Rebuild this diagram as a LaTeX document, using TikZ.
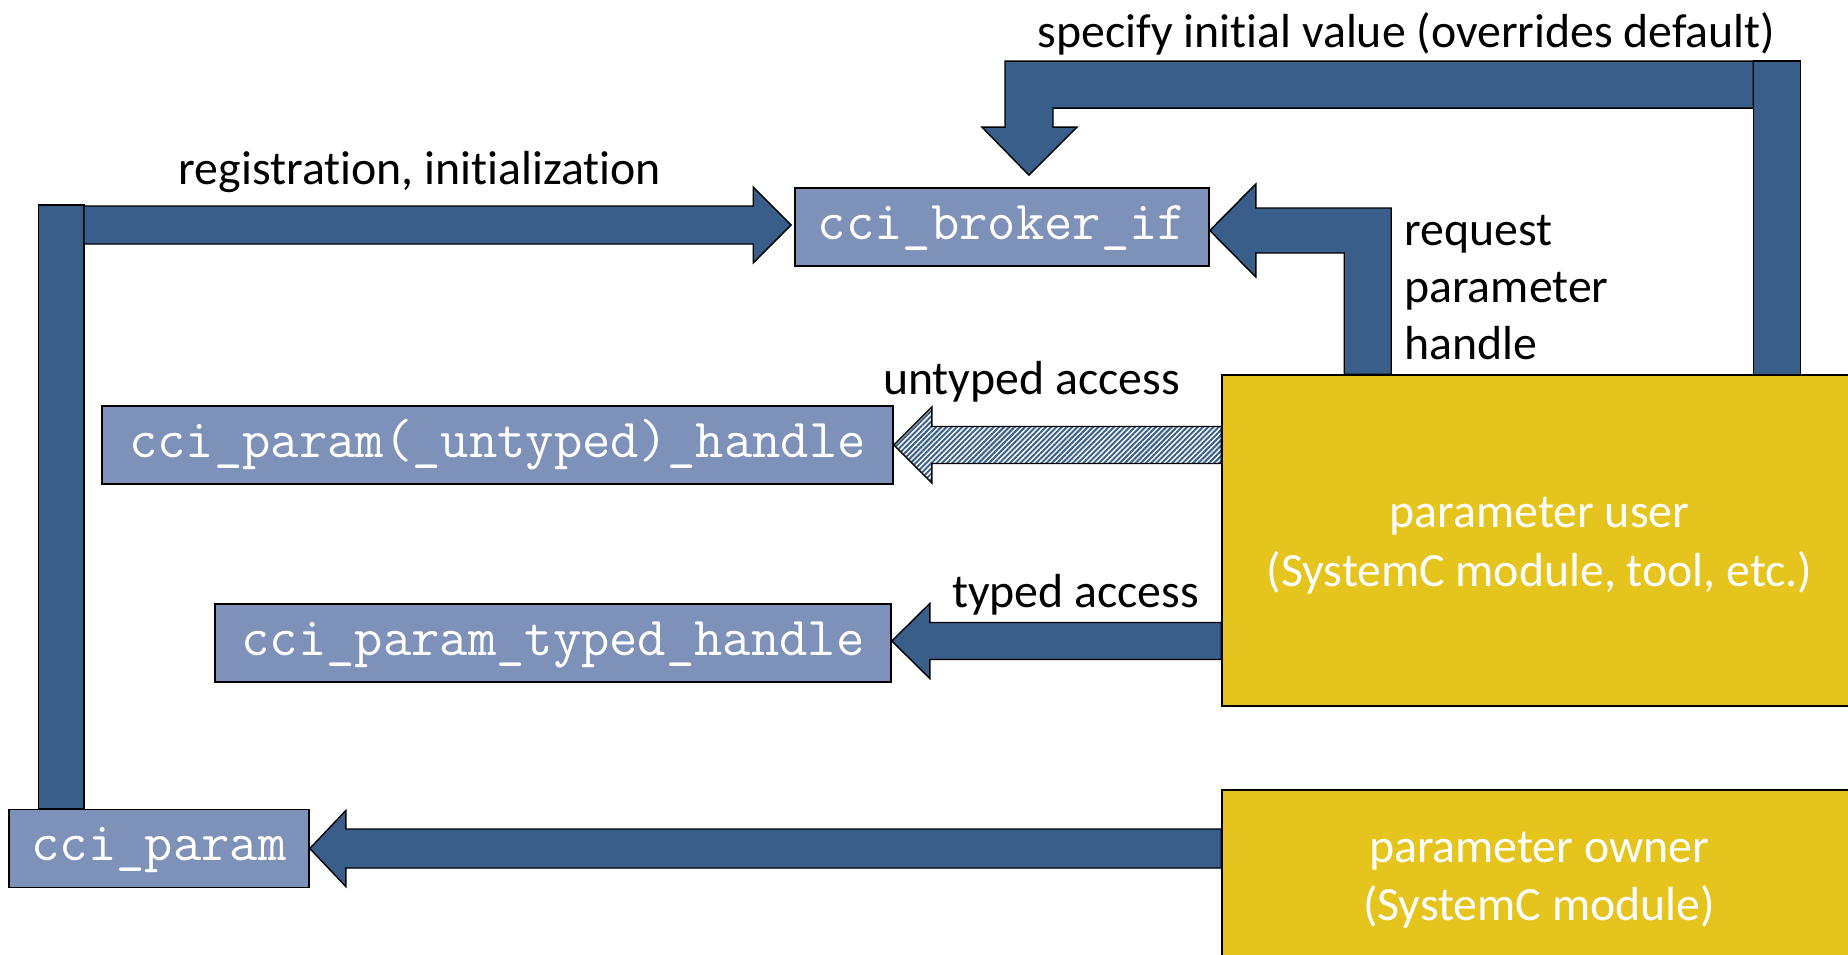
\documentclass[tikz,border=0pt]{standalone}
\usepackage{fontspec}
\setmainfont{Carlito}[Ligatures={NoCommon}]
\usetikzlibrary{calc,patterns.meta}

\definecolor{arrowblue}{RGB}{58,94,138}
\definecolor{boxblue}{RGB}{126,145,185}
\definecolor{moduleyellow}{RGB}{230,196,30}

% block arrow pointing left: tip, tail (same height as tip), shaft half width, head half width, head length
\newcommand\blockleft[5]{($(#1)+(#5,-#4)$) -- (#1) -- ($(#1)+(#5,#4)$) -- ($(#1)+(#5,#3)$) -- ($(#2)+(0,#3)$) -- ($(#2)+(0,-#3)$) -- ($(#1)+(#5,-#3)$) -- cycle}
% block arrow pointing right, same arguments
\newcommand\blockright[5]{($(#1)+(-#5,-#4)$) -- (#1) -- ($(#1)+(-#5,#4)$) -- ($(#1)+(-#5,#3)$) -- ($(#2)+(0,#3)$) -- ($(#2)+(0,-#3)$) -- ($(#1)+(-#5,-#3)$) -- cycle}

\tikzset{
  iface/.style={draw=black, line width=1.6pt, fill=boxblue, text=white,
    inner xsep=0pt, inner ysep=0pt, minimum height=78pt,
    font=\fontsize{55}{55}\selectfont\ttfamily, text height=51pt, text depth=27pt},
  module/.style={draw=black, line width=1.6pt, fill=moduleyellow, inner sep=0pt},
  flow/.style={draw=black, line width=1.4pt, fill=arrowblue, line join=miter},
  hatchflow/.style={draw=black, line width=1.4pt, line join=miter, preaction={fill=white},
    pattern={Lines[angle=45,distance=3.7pt,line width=2pt]}, pattern color=arrowblue},
  lbl/.style={font=\fontsize{47.8}{57}\selectfont, inner sep=0pt},
  modlbl/.style={lbl, text=white},
}

\begin{document}
\begin{tikzpicture}[x=1pt,y=-1pt]
\useasboundingbox (0,0) rectangle (1848,955);
\clip (0,0) rectangle (1848,955);

% modules
\node[module, minimum width=634pt, minimum height=331pt] (user) at (1539,540.5) {};
\node[module, minimum width=634pt, minimum height=176pt] (owner) at (1539,878) {};
\node[modlbl, anchor=base] (userA) at (1539.5,527) {parameter user};
\node[modlbl, anchor=base] (userB) at (1539.5,586) {(SystemC module, tool, etc.)};
\node[modlbl, anchor=base] (ownerA) at (1539,862) {parameter owner};
\node[modlbl, anchor=base] (ownerB) at (1539,920) {(SystemC module)};

% interfaces
\node[iface, minimum width=414pt] (broker) at (1002,227) {cci\_broker\_if};
\node[iface, minimum width=791pt] (untyped) at (497.5,445) {cci\_param(\_untyped)\_handle};
\node[iface, minimum width=676pt] (typed) at (553,643) {cci\_param\_typed\_handle};
\node[iface, minimum width=300pt] (param) at (159,848.5) {cci\_param};

% access arrows from the modules
\coordinate (untypedtail) at (user.west |- untyped.east);
\coordinate (typedtip) at ($(typed.east)+(0,-2)$);
\coordinate (typedtail) at (user.west |- typedtip);
\coordinate (paramtail) at (owner.west |- param.east);
\draw[hatchflow] \blockleft{untyped.east}{untypedtail}{18.5}{38}{38};
\draw[flow] \blockleft{typedtip}{typedtail}{18.5}{37.5}{38};
\draw[flow] \blockleft{param.east}{paramtail}{19.5}{38}{36};

% registration path: up from cci_param, then right to the broker
\coordinate (barbottom) at ($(param.north west)+(30,0)$);
\coordinate (bartop) at (84,205);
\draw[flow] (barbottom) rectangle (bartop);
\coordinate (regtip) at ($(broker.west)+(-3,-2)$);
\coordinate (regtail) at (bartop |- regtip);
\draw[flow] \blockright{regtip}{regtail}{19}{38}{38};

% request parameter handle: up from the user, then left to the broker
\coordinate (reqtip) at ($(broker.east)+(0,3.5)$);
\coordinate (reqleft) at ($(user.north west)+(123,0)$);
\coordinate (reqright) at ($(user.north west)+(170,0)$);
\coordinate (reqtop) at ($(reqtip)+(0,-22.5)$);
\coordinate (reqlow) at ($(reqtip)+(0,22.5)$);
\draw[flow] (reqtip) -- ($(reqtip)+(46,-46.5)$) -- ($(reqtip)+(46,-22.5)$) -- (reqright |- reqtop) -- (reqright)
  -- (reqleft) -- (reqleft |- reqlow) -- ($(reqtip)+(46,22.5)$) -- ($(reqtip)+(46,46.5)$) -- cycle;

% initial value: up from the user, left along the top, down to the broker
\coordinate (rbarbottom) at ($(user.north west)+(532,0)$);
\coordinate (rbartop) at ($(user.north west)+(579,-313)$);
\draw[flow] (rbarbottom) rectangle (rbartop);
\coordinate (inittip) at ($(broker.north)+(27,-12)$);
\coordinate (initouter) at (rbarbottom |- rbartop);
\coordinate (initinner) at ($(inittip)+(0,-67)$);
\draw[flow] (initouter) -- ($(inittip)+(-24,-114)$) -- ($(inittip)+(-24,-48)$) -- ($(inittip)+(-47,-48)$)
  -- (inittip) -- ($(inittip)+(48,-48)$) -- ($(inittip)+(24,-48)$) -- ($(inittip)+(24,-67)$)
  -- (initouter |- initinner) -- cycle;

% labels
\node[lbl, anchor=base] (reglbl) at (420,185) {registration, initialization};
\node[lbl, anchor=base] (initlbl) at (1406.5,48) {specify initial value (overrides default)};
\node[lbl, anchor=base west] (reqA) at (1404,245) {request};
\node[lbl, anchor=base west] (reqB) at (1404,302) {parameter};
\node[lbl, anchor=base west] (reqC) at (1404,359) {handle};
\node[lbl, anchor=base] (untypedlbl) at (1031.5,394) {untyped access};
\node[lbl, anchor=base] (typedlbl) at (1075.5,607) {typed access};
\end{tikzpicture}
\end{document}
